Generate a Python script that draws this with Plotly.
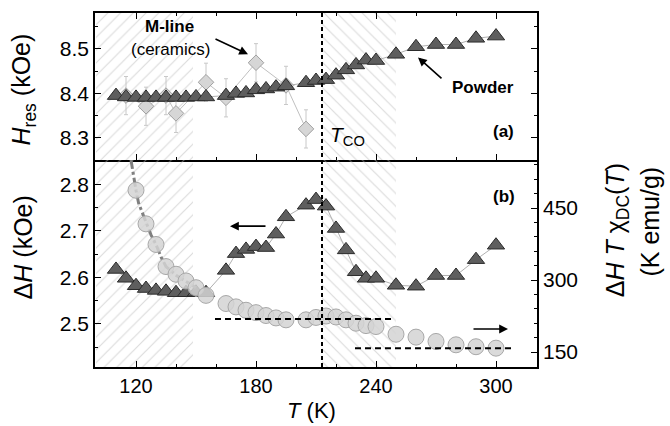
import plotly.graph_objects as go
from plotly.subplots import make_subplots

# ---------------- data ----------------
T_powder = [110, 115, 120, 125, 130, 135, 140, 145, 150, 155, 165, 170, 175, 180, 185, 190, 195,
            205, 210, 215, 220, 225, 230, 235, 240, 250, 260, 270, 280, 290, 300]
Hres_powder = [8.395, 8.392, 8.391, 8.391, 8.391, 8.391, 8.391, 8.391, 8.392, 8.392, 8.395, 8.400, 8.401,
               8.408, 8.410, 8.414, 8.417, 8.424, 8.429, 8.431, 8.441, 8.453, 8.464, 8.475, 8.474,
               8.488, 8.505, 8.510, 8.510, 8.524, 8.529]
dH_powder = [2.617, 2.598, 2.582, 2.576, 2.572, 2.570, 2.567, 2.567, 2.568, 2.567, 2.615, 2.651, 2.660,
             2.666, 2.664, 2.693, 2.730, 2.755, 2.767, 2.753, 2.705, 2.659, 2.612, 2.598, 2.598,
             2.583, 2.581, 2.604, 2.604, 2.638, 2.669]

T_mline = [115, 125, 135, 140, 155, 165, 180, 195, 205]
Hres_mline = [8.395, 8.371, 8.395, 8.355, 8.425, 8.390, 8.469, 8.418, 8.320]
Hres_mline_err = 0.043

T_chi = [120, 125, 130, 135, 140, 145, 150, 155, 165, 170, 175, 180, 185, 190, 195,
         205, 210, 215, 220, 225, 230, 235, 240, 250, 260, 270, 280, 290, 300]
dHTchi = [487, 417, 374, 328, 312, 298, 284, 268, 251, 244, 237, 232, 226, 221, 217,
          217, 222, 225, 223, 217, 210, 205, 203, 187, 181, 172, 165, 161, 158]

T_fit = [117.5, 118.7, 120, 121.3, 123.3, 125, 127.5, 130, 132.5, 135, 140, 145, 150]
chi_fit = [550, 515, 487, 460, 439, 418, 394, 374, 348, 328, 310, 297, 284]

T_CO = 213
hatch_left = [100, 148.5]
hatch_right = [213, 250]
dash_line1 = {"T": [159.5, 248.5], "v": 219}
dash_line2 = {"T": [229.5, 308.5], "v": 158}

x_range = [99.5, 320.5]
ytop_range = [8.25, 8.581]
ybot_range = [2.4075, 2.852]
yright_range = [118.75, 550]

FONT = "Liberation Sans, Arial, sans-serif"
SPLIT = 207 / 354

fig = make_subplots(rows=2, cols=1, shared_xaxes=True, vertical_spacing=0,
                    row_heights=[1 - SPLIT, SPLIT],
                    specs=[[{}], [{"secondary_y": True}]])

def hatch(xr, yr, shape, row, secondary=None):
    tr = go.Scatter(x=[xr[0], xr[1], xr[1], xr[0], xr[0]],
                    y=[yr[0], yr[0], yr[1], yr[1], yr[0]],
                    mode="none", fill="toself", fillcolor="rgba(255,255,255,0)",
                    fillpattern=dict(shape=shape, size=9, solidity=0.13,
                                     fgcolor="#b8b8b8", bgcolor="rgba(255,255,255,0)"),
                    showlegend=False, hoverinfo="skip")
    if secondary is None:
        fig.add_trace(tr, row=row, col=1)
    else:
        fig.add_trace(tr, row=row, col=1, secondary_y=secondary)

hatch(hatch_left, ytop_range, "/", 1)
hatch(hatch_right, ytop_range, "\\", 1)
hatch(hatch_left, ybot_range, "/", 2, False)
hatch(hatch_right, ybot_range, "\\", 2, False)

tri_marker = dict(symbol="triangle-up", size=15, color="#5e5e5e",
                  line=dict(color="#2b2b2b", width=1))

# top panel
fig.add_trace(go.Scatter(x=T_mline, y=Hres_mline, mode="lines+markers",
                         line=dict(color="#c0c0c0", width=1),
                         marker=dict(symbol="diamond", size=12, color="#d6d6d6",
                                     line=dict(color="#a0a0a0", width=1)),
                         error_y=dict(type="constant", value=Hres_mline_err,
                                      color="#c8c8c8", thickness=1, width=2),
                         showlegend=False), row=1, col=1)
fig.add_trace(go.Scatter(x=T_powder, y=Hres_powder, mode="lines+markers",
                         line=dict(color="#b0b0b0", width=1),
                         marker=tri_marker, showlegend=False), row=1, col=1)

# bottom panel
fig.add_trace(go.Scatter(x=T_powder, y=dH_powder, mode="lines+markers",
                         line=dict(color="#b0b0b0", width=1),
                         marker=tri_marker, showlegend=False), row=2, col=1, secondary_y=False)
fig.add_trace(go.Scatter(x=T_fit, y=chi_fit, mode="lines",
                         line=dict(color="#808080", width=3, dash="dashdot"),
                         showlegend=False), row=2, col=1, secondary_y=True)
fig.add_trace(go.Scatter(x=T_chi, y=dHTchi, mode="markers",
                         marker=dict(symbol="circle", size=16, color="rgba(212,212,212,0.85)",
                                     line=dict(color="#a8a8a8", width=1)),
                         showlegend=False), row=2, col=1, secondary_y=True)

# dashed reference lines
fig.add_shape(type="line", xref="x2", yref="paper", x0=T_CO, x1=T_CO, y0=0, y1=1,
              line=dict(color="black", width=2, dash="4px,3px"))
for d in (dash_line1, dash_line2):
    fig.add_shape(type="line", xref="x2", yref="y3", x0=d["T"][0], x1=d["T"][1],
                  y0=d["v"], y1=d["v"], line=dict(color="black", width=2, dash="6px,4px"))

ann = []
def txt(x, y, text, xref="x", yref="y", size=17, **kw):
    ann.append(dict(x=x, y=y, xref=xref, yref=yref, text=text, showarrow=False,
                    xanchor="center", yanchor="middle",
                    font=dict(family=FONT, size=size, color="black"), **kw))

txt(136.5, 8.551, "<b>M-line</b>")
txt(137, 8.499, "(ceramics)")
txt(293.5, 8.413, "<b>Powder</b>")
txt(303.5, 8.315, "<b>(a)</b>")
txt(304, 2.774, "<b>(b)</b>", xref="x2", yref="y2")
txt(225.5, 8.303, "<i>T</i><sub>CO</sub>", size=21)

def arrow(xh, yh, xt, yt, xref, yref):
    ann.append(dict(x=xh, y=yh, ax=xt, ay=yt, xref=xref, yref=yref, axref=xref, ayref=yref,
                    text="", showarrow=True, arrowhead=2, arrowsize=1.1, arrowwidth=1.6,
                    arrowcolor="black"))

arrow(176, 8.488, 159, 8.524, "x", "y")
arrow(261, 8.481, 273.5, 8.431, "x", "y")
arrow(167, 2.71, 185.5, 2.71, "x2", "y2")
arrow(306, 197.9, 288, 197.9, "x2", "y3")

# axis titles
txt(-0.162, 0.785, "<i>H</i><sub>res</sub> (kOe)", xref="paper", yref="paper", size=25, textangle=-90)
txt(-0.162, 0.339, "Δ<i>H</i> (kOe)", xref="paper", yref="paper", size=25, textangle=-90)
txt(1.180, 0.385, "Δ<i>H</i> <i>T</i> χ<sub>DC</sub>(<i>T</i>)", xref="paper", yref="paper",
    size=25, textangle=-90)
txt(1.255, 0.41, "(K emu/g)", xref="paper", yref="paper", size=25, textangle=-90)
txt(0.49, -0.122, "<i>T</i> (K)", xref="paper", yref="paper", size=22)

fig.update_layout(annotations=ann)

axis_common = dict(showline=True, linecolor="black", linewidth=1.6, ticks="inside",
                   tickcolor="black", tickwidth=1.4, ticklen=6, showgrid=False, zeroline=False,
                   tickfont=dict(family=FONT, size=21, color="black"))
minor_x = dict(ticks="inside", dtick=20, ticklen=3.5, tickcolor="black", tickwidth=1.2)

fig.update_xaxes(**axis_common, range=x_range, tick0=0, dtick=60, domain=[0, 1], minor=minor_x)
# top panel: line + ticks at divider and at top
fig.update_xaxes(showticklabels=False, mirror="ticks", row=1, col=1)
# bottom panel: bottom line only (divider drawn once, by the top panel)
fig.update_xaxes(mirror=False, tickfont=dict(family=FONT, size=20, color="black"), row=2, col=1)

fig.update_yaxes(**axis_common, range=ytop_range, tick0=8.3, dtick=0.1, mirror="ticks",
                 domain=[SPLIT, 1],
                 minor=dict(ticks="inside", dtick=0.05, ticklen=3.5, tickcolor="black", tickwidth=1.2),
                 row=1, col=1)
fig.update_yaxes(**axis_common, range=ybot_range, tick0=2.5, dtick=0.1, mirror=False,
                 domain=[0, SPLIT],
                 minor=dict(ticks="inside", dtick=0.05, ticklen=3.5, tickcolor="black", tickwidth=1.2),
                 row=2, col=1, secondary_y=False)
fig.update_yaxes(**axis_common, range=yright_range, tick0=150, dtick=150, domain=[0, SPLIT],
                 minor=dict(ticks="inside", dtick=30, ticklen=3.5, tickcolor="black", tickwidth=1.2),
                 row=2, col=1, secondary_y=True)

fig.update_layout(width=670, height=426, margin=dict(l=95, r=133, t=13, b=59),
                  paper_bgcolor="white", plot_bgcolor="white", showlegend=False,
                  font=dict(family=FONT, color="black"))

fig.write_html("out.html")
